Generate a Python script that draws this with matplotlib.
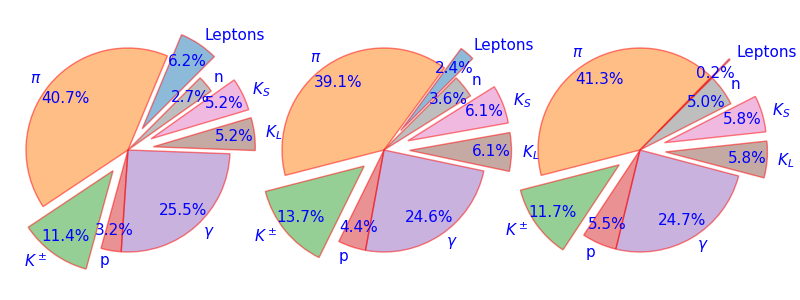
import matplotlib
matplotlib.use("Agg")
import matplotlib.pyplot as plt

labels = ["Leptons", r"$\pi$", r"$K^\pm$", "p", r"$\gamma$", r"$K_L$", r"$K_S$", "n"]
values1 = [6.2, 40.7, 11.4, 3.2, 25.5, 5.2, 5.2, 2.7]
values2 = [2.4, 39.1, 13.7, 4.4, 24.6, 6.1, 6.1, 3.6]
values3 = [0.2, 41.3, 11.7, 5.5, 24.7, 5.8, 5.8, 5.0]
explode = [0.25, 0, 0.25, 0, 0, 0.25, 0.25, 0]

fig = plt.figure(figsize=(8, 3), dpi=100)
W, H = 800, 300
scale = 102.0
centers = [128, 384, 640]
aw = 256
for cx, vals in zip(centers, [values1, values2, values3]):
    ax = fig.add_axes([(cx - aw / 2) / W, 0, aw / W, 1])
    wedges, texts, autotexts = ax.pie(
        vals, labels=labels, explode=explode, startangle=45,
        autopct="%1.1f%%", pctdistance=0.8, labeldistance=1.1,
        wedgeprops=dict(alpha=0.5, edgecolor="red", linewidth=1),
        textprops=dict(color="blue", fontsize=11), frame=False)
    for w in wedges:
        w.set_clip_on(False)
    ax.set_xlim(-aw / 2 / scale, aw / 2 / scale)
    ax.set_ylim(-H / 2 / scale, H / 2 / scale)
    ax.set_aspect("auto")
    ax.axis("off")

fig.savefig("out.png", dpi=100)
